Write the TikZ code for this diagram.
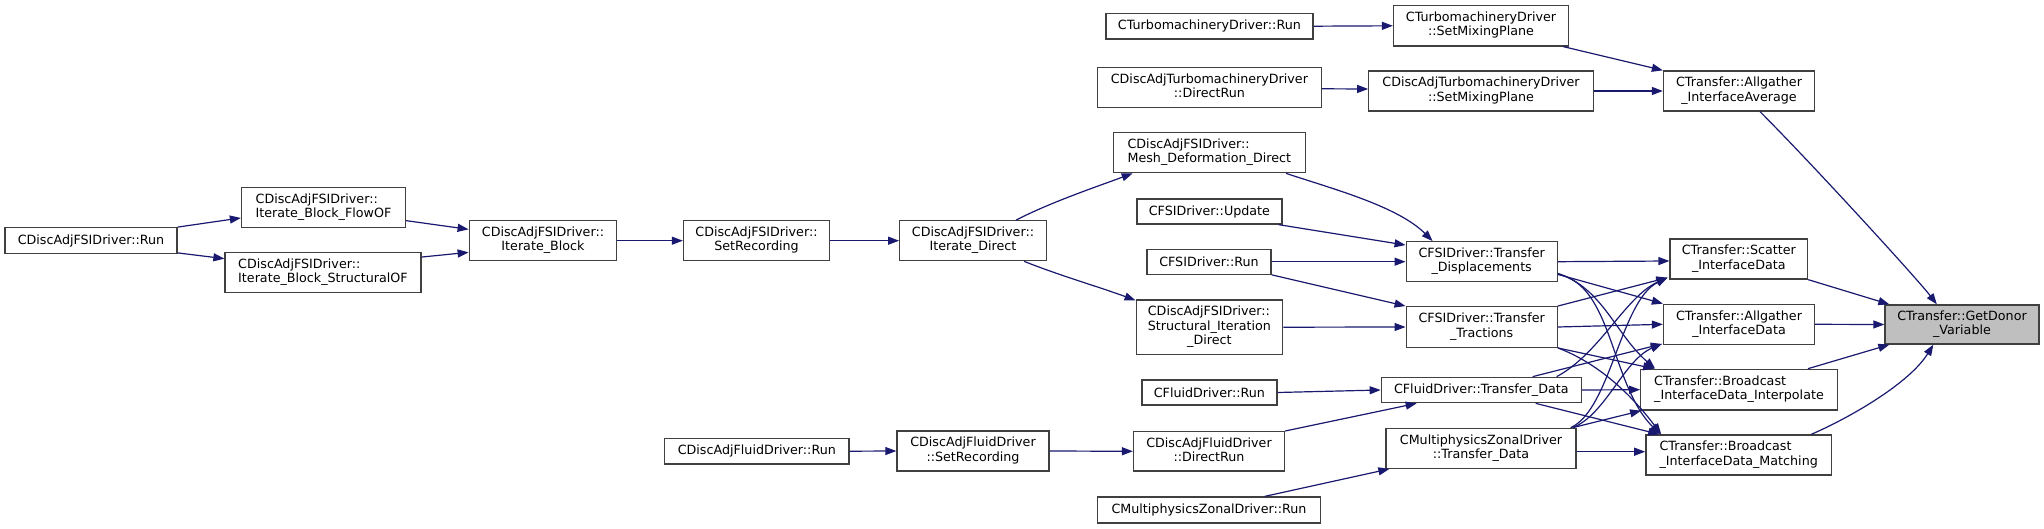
\documentclass[tikz,border=0pt]{standalone}
\usepackage{fontspec}
\setmainfont{DejaVu Sans}
\usetikzlibrary{arrows.meta}
\definecolor{edgec}{HTML}{191970}
\definecolor{boxc}{HTML}{404040}
\definecolor{grayfill}{HTML}{BFBFBF}
\newcommand\ml[2]{\begin{tabular}{@{}c@{}}\multicolumn{1}{@{}l@{}}{#1}\\#2\end{tabular}}
\tikzset{
  box/.style={draw=boxc, line width=1.3pt, fill=white, inner sep=0pt,
    font=\fontsize{12.7}{14.3}\selectfont},
  sz/.style 2 args={minimum width=#1pt, minimum height=#2pt},
  e/.style={draw=edgec, line width=1.2pt, -{Triangle[length=11pt,width=8pt]}}
}
\begin{document}
\begin{tikzpicture}[x=1pt,y=-1pt]
\fill[white] (0,0) rectangle (2044,529);
\useasboundingbox (0,0) rectangle (2044,529);
% nodes
\node[box,sz={172}{25.5}] (n1) at (91,240.5) {CDiscAdjFSIDriver::Run};
\node[box,sz={164}{40}] (n2) at (323.5,207.3) {\ml{CDiscAdjFSIDriver::}{Iterate\_Block\_FlowOF}};
\node[box,sz={196}{40}] (n3) at (323,272.5) {\ml{CDiscAdjFSIDriver::}{Iterate\_Block\_StructuralOF}};
\node[box,sz={147.5}{40}] (n4) at (543,240.7) {\ml{CDiscAdjFSIDriver::}{Iterate\_Block}};
\node[box,sz={146}{40}] (n5) at (756.5,240.7) {\ml{CDiscAdjFSIDriver::}{SetRecording}};
\node[box,sz={146.5}{40}] (n6) at (973,240.7) {\ml{CDiscAdjFSIDriver::}{Iterate\_Direct}};
\node[box,sz={192}{40}] (n7) at (1209.3,152.7) {\ml{CDiscAdjFSIDriver::}{Mesh\_Deformation\_Direct}};
\node[box,sz={145}{25}] (n8) at (1209.4,211.5) {CFSIDriver::Update};
\node[box,sz={124}{25}] (n9) at (1209,261.7) {CFSIDriver::Run};
\node[box,sz={146.4}{54.3}] (n10) at (1209.4,327.2) {\ml{CDiscAdjFSIDriver::}{Structural\_Iteration\\\_Direct}};
\node[box,sz={151}{40}] (n11) at (1481.7,261.7) {\ml{CFSIDriver::Transfer}{\_Displacements}};
\node[box,sz={151}{40.6}] (n12) at (1481.7,327) {\ml{CFSIDriver::Transfer}{\_Tractions}};
\node[box,sz={135}{25}] (n13) at (1209.4,392.5) {CFluidDriver::Run};
\node[box,sz={200}{25.4}] (n14) at (1481.3,390) {CFluidDriver::Transfer\_Data};
\node[box,sz={151}{39.3}] (n15) at (1209,451.3) {\ml{CDiscAdjFluidDriver}{::DirectRun}};
\node[box,sz={190}{40}] (n16) at (1481,448.3) {\ml{CMultiphysicsZonalDriver}{::Transfer\_Data}};
\node[box,sz={223}{26}] (n17) at (1209,510) {CMultiphysicsZonalDriver::Run};
\node[box,sz={184.5}{25.7}] (n18) at (756.8,451.2) {CDiscAdjFluidDriver::Run};
\node[box,sz={152}{40}] (n19) at (973,451) {\ml{CDiscAdjFluidDriver}{::SetRecording}};
\node[box,sz={207}{25.7}] (n20) at (1209.4,26.2) {CTurbomachineryDriver::Run};
\node[box,sz={175}{40.3}] (n21) at (1481,25.8) {\ml{CTurbomachineryDriver}{::SetMixingPlane}};
\node[box,sz={224}{40}] (n22) at (1209.4,87.3) {\ml{CDiscAdjTurbomachineryDriver}{::DirectRun}};
\node[box,sz={224.4}{40}] (n23) at (1481,91) {\ml{CDiscAdjTurbomachineryDriver}{::SetMixingPlane}};
\node[box,sz={151}{40}] (n24) at (1739,91) {\ml{CTransfer::Allgather}{\_InterfaceAverage}};
\node[box,sz={137.5}{40}] (n25) at (1738.8,259) {\ml{CTransfer::Scatter}{\_InterfaceData}};
\node[box,sz={151}{40}] (n26) at (1739,324.3) {\ml{CTransfer::Allgather}{\_InterfaceData}};
\node[box,sz={196.5}{40.7}] (n27) at (1739,389.7) {\ml{CTransfer::Broadcast}{\_InterfaceData\_Interpolate}};
\node[box,sz={185.7}{40}] (n28) at (1738.7,455) {\ml{CTransfer::Broadcast}{\_InterfaceData\_Matching}};
\node[box,sz={154}{39},fill=grayfill] (n29) at (1962,324.5) {\ml{CTransfer::GetDonor}{\_Variable}};
% edges left part
\draw[e] (n1.north east) -- ([yshift=10pt]n2.south west);
\draw[e] ([yshift=1pt]n1.south east) -- ([yshift=-6.8pt]n3.north west);
\draw[e] ([yshift=7.3pt]n2.south east) -- ([yshift=-9.3pt]n4.north west);
\draw[e] ([yshift=-5.2pt]n3.north east) -- ([yshift=9pt]n4.south west);
\draw[e] (n4.east) -- (n5.west);
\draw[e] (n5.east) -- (n6.west);
\draw[e] ([xshift=117pt]n6.north west) .. controls +(35,-18) and +(-35,13) .. ([xshift=20pt]n7.south west);
\draw[e] ([xshift=125pt]n6.south west) .. controls +(35,14) and +(-35,-13) .. ([yshift=-1pt]n10.north west);
\draw[e] ([xshift=-20pt]n7.south east) .. controls +(45,15) and +(-35,-35) .. ([xshift=27pt]n11.north west);
\draw[e] ([xshift=-4pt]n8.south east) -- ([yshift=-4pt]n11.north west);
\draw[e] (n9.east) -- (n11.west);
\draw[e] (n9.south east) -- (n12.north west);
\draw[e] (n10.east) -- (n12.west);
\draw[e] (n13.east) -- (n14.west);
\draw[e] (n15.north east) -- ([xshift=36pt]n14.south west);
\draw[e] ([xshift=168pt]n17.north west) -- ([xshift=4pt]n16.south west);
\draw[e] (n18.east) -- (n19.west);
\draw[e] (n19.east) -- (n15.west);
\draw[e] (n20.east) -- (n21.west);
\draw[e] ([yshift=-1.5pt]n22.east) -- ([yshift=2pt]n23.west);
\draw[e] ([xshift=-6pt]n21.south east) -- (n24.north west);
\draw[e] (n23.east) -- (n24.west);
% edges into GetDonor
\draw[e] ([xshift=21pt]n24.south) .. controls +(50,50) and +(-20,-26) .. ([xshift=52.5pt]n29.north west);
\draw[e] (n25.south east) -- ([xshift=5pt]n29.north west);
\draw[e] (n26.east) -- (n29.west);
\draw[e] ([xshift=-30pt]n27.north east) -- ([xshift=5pt]n29.south west);
\draw[e] ([xshift=-21pt]n28.north east) .. controls +(35,-15) and +(-25,40) .. ([xshift=49pt]n29.south west);
% crossing edges
\draw[e] (n11.east) -- ([yshift=-2pt]n25.west);
\draw[e] ([yshift=8pt]n11.south east) -- (n26.north west);
\draw[e] ([yshift=9pt]n11.south east) .. controls +(45,15) and +(-40,-35) .. ([xshift=15pt]n27.north west);
\draw[e] ([yshift=8pt]n11.south east) .. controls +(55,10) and +(-50,-50) .. ([xshift=15pt]n28.north west);
\draw[e] (n12.north east) -- ([xshift=-2pt,yshift=2pt]n25.south west);
\draw[e] (n12.east) -- (n26.west);
\draw[e] (n12.south east) -- ([xshift=14pt]n27.north west);
\draw[e] (n12.south east) .. controls +(40,15) and +(-30,-40) .. ([xshift=16pt]n28.north west);
\draw[e] ([xshift=176pt]n14.north west) .. controls +(43,-23) and +(-42,19) .. ([xshift=-2pt,yshift=2pt]n25.south west);
\draw[e] ([xshift=152pt]n14.north west) -- ([xshift=-1pt,yshift=1pt]n26.south west);
\draw[e] (n14.east) -- (n27.west);
\draw[e] ([xshift=155pt]n14.south west) -- ([xshift=14pt]n28.north west);
\draw[e] ([xshift=-6pt]n16.north east) .. controls +(40,-18) and +(-47,23) .. ([xshift=-2pt,yshift=2pt]n25.south west);
\draw[e] ([xshift=-4pt]n16.north east) .. controls +(33,-13) and +(-38,16) .. ([xshift=-1pt,yshift=1pt]n26.south west);
\draw[e] ([xshift=-4pt]n16.north east) -- ([xshift=1pt]n27.south west);
\draw[e] ([yshift=-3.4pt]n16.east) -- ([yshift=3.3pt]n28.west);
\end{tikzpicture}
\end{document}
